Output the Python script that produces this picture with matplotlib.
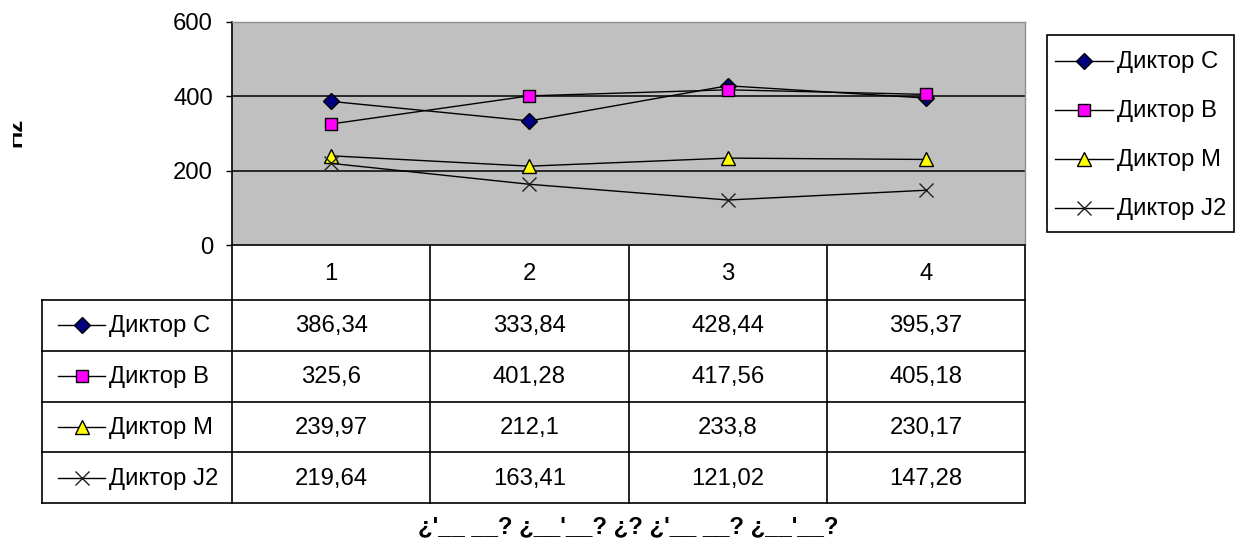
import numpy as np
import matplotlib
matplotlib.use('Agg')
import matplotlib.pyplot as plt
from matplotlib.transforms import Bbox

plt.rcParams['font.family'] = ['Liberation Sans', 'DejaVu Sans']

# 数据
categories = ['1', '2', '3', '4']
series_names = ['Диктор C', 'Диктор B', 'Диктор M', 'Диктор J2']
vals_c = [386.34, 333.84, 428.44, 395.37]
vals_b = [325.6, 401.28, 417.56, 405.18]
vals_m = [239.97, 212.1, 233.8, 230.17]
vals_j2 = [219.64, 163.41, 121.02, 147.28]
y_ticks = [0, 200, 400, 600]
y_label = 'Hz'
x_title = "¿'__ __? ¿__'__? ¿? ¿'__ __? ¿__'__?"

series = [vals_c, vals_b, vals_m, vals_j2]
styles = [
    dict(marker='D', mfc='#000080', mec='black', ms=8.5),
    dict(marker='s', mfc='#ff00ff', mec='black', ms=9),
    dict(marker='^', mfc='#ffff00', mec='black', ms=10),
    dict(marker='x', mfc='none', mec='#202020', ms=10),
]

W, H = 1237, 549
FS = 17.2
L, R, T, B = 232, 1025, 22, 245   # 绘图区像素位置

fig = plt.figure(figsize=(W / 100, H / 100), dpi=100)

# 像素坐标的覆盖层，用于表格、图例和标题
bg = fig.add_axes([0, 0, 1, 1])
bg.set_xlim(0, W)
bg.set_ylim(H, 0)
bg.axis('off')

ax = fig.add_axes([L / W, 1 - B / H, (R - L) / W, (B - T) / H])
ax.set_facecolor('#c0c0c0')
x = np.arange(1, len(categories) + 1)
for vals, st in zip(series, styles):
    ax.plot(x, vals, color='black', lw=1, mew=1, zorder=3, **st)
for v in y_ticks[1:-1]:
    ax.axhline(v, color='black', lw=1.1, zorder=1)
ax.set_xlim(0.5, len(categories) + 0.5)
ax.set_ylim(0, 600)
ax.set_yticks(y_ticks)
ax.set_xticks([])
ax.tick_params(axis='y', direction='out', length=4.3, width=1, pad=9.4, labelsize=FS, colors='black')
for s in ['top', 'right']:
    ax.spines[s].set_color('#909090')
    ax.spines[s].set_linewidth(1)
for s in ['left', 'bottom']:
    ax.spines[s].set_color('black')
    ax.spines[s].set_linewidth(1.2)

# 表格
col_w = (R - L) / len(categories)
col_x = [L + i * col_w for i in range(len(categories) + 1)]
tab_left = 42
row_top = 300
row_h = 50.75
n_rows = len(series_names)
tab_bot = row_top + n_rows * row_h
lk = dict(color='black', lw=1.2)
for cx in col_x:
    bg.plot([cx, cx], [B, tab_bot], **lk)
bg.plot([tab_left, tab_left], [row_top, tab_bot], **lk)
for i in range(n_rows + 1):
    yy = row_top + i * row_h
    bg.plot([tab_left, R], [yy, yy], **lk)
for i, c in enumerate(categories):
    bg.text((col_x[i] + col_x[i + 1]) / 2, (B + row_top) / 2 + 1, c, fontsize=FS, ha='center', va='center')
for r, (name, vals, st) in enumerate(zip(series_names, series, styles)):
    yc = row_top + (r + 0.5) * row_h
    bg.plot([58, 105], [yc, yc], color='black', lw=1)
    bg.plot([81.5], [yc], mew=1, **st)
    bg.text(109, yc + 1, name, fontsize=FS, ha='left', va='center')
    for i, v in enumerate(vals):
        bg.text((col_x[i] + col_x[i + 1]) / 2, yc + 1, str(v).replace('.', ','), fontsize=FS, ha='center', va='center')

# 图例
bg.add_patch(plt.Rectangle((1047, 35), 187, 197, fill=False, ec='black', lw=1.2))
for r, (name, st) in enumerate(zip(series_names, styles)):
    yc = 61 + r * 49
    bg.plot([1055, 1113], [yc, yc], color='black', lw=1)
    bg.plot([1084], [yc], mew=1, **st)
    bg.text(1117, yc + 1, name, fontsize=FS, ha='left', va='center')

# 坐标轴标题
bg.text(628, 527, x_title, fontsize=FS, fontweight='bold', ha='center', va='center')
t = bg.text(21, 147, y_label, fontsize=FS, fontweight='bold', rotation=90,
            rotation_mode='anchor', ha='left', va='baseline')
t.set_clip_box(Bbox([[13, 0], [W, H]]))
t.set_clip_on(True)

fig.savefig('out.png', dpi=100)
